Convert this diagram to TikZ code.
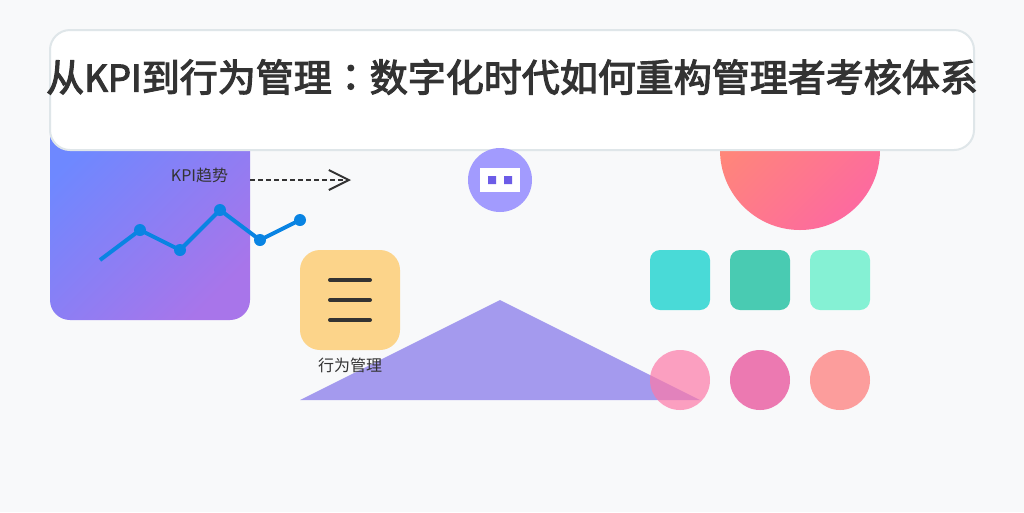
\documentclass[tikz,border=0pt]{standalone}
\usepackage{fontspec}
\setmainfont{Noto Sans CJK SC}
\newfontfamily\titlefont[FakeBold=3]{Noto Sans CJK SC}
\newfontfamily\colonfont[FakeBold=3]{Noto Sans CJK TC}
\usetikzlibrary{arrows.meta}
\definecolor{pagebg}{HTML}{F8F9FA}
\definecolor{inkdark}{HTML}{333333}
\definecolor{edgegrey}{HTML}{DFE6E9}
\definecolor{cardfrom}{HTML}{6E88FF}
\definecolor{cardto}{HTML}{A875EA}
\definecolor{sunfrom}{HTML}{FF8C72}
\definecolor{sunto}{HTML}{FD6A9F}
\definecolor{chartblue}{HTML}{0984E3}
\definecolor{violet}{HTML}{6C5CE7}
\definecolor{lilac}{HTML}{A29BFE}
\tikzset{
	dot/.style={circle,fill=chartblue,inner sep=0pt,minimum size=9pt},
	menuline/.style={color=inkdark,line width=3pt,line cap=round},
	tile/.style={fill opacity=0.7,rounded corners=7.5pt},
	disc/.style={fill opacity=0.7}
}
\begin{document}
\begin{tikzpicture}[x=0.75pt,y=-0.75pt]
	\useasboundingbox (0,0) rectangle (1024,512);
	\fill [pagebg] (0,0) rectangle (1024,512);
	% card and sun
	\shade [rounded corners=15pt,left color=cardfrom,right color=cardto,shading angle=45] (50,120) rectangle (250,320);
	\shade [left color=sunfrom,right color=sunto,shading angle=45] (800,150) circle (80);
	% title box
	\draw [fill=white,draw=edgegrey,line width=1.5pt,rounded corners=15pt] (50,30) rectangle (974,150);
	\node (title) at (512,77) [color=inkdark,font=\titlefont\fontsize{28.5pt}{34pt}\selectfont] {从{\fontsize{27.5pt}{34pt}\selectfont KPI}到行为管理{\colonfont ：}数字化时代如何重构管理者考核体系};
	% trend
	\node (trend) at (199.5,175) [color=inkdark,font=\fontsize{12pt}{14pt}\selectfont] {KPI趋势};
	\coordinate (start) at (100,260);
	\node [dot] (p1) at (140,230) {};
	\node [dot] (p2) at (180,250) {};
	\node [dot] (p3) at (220,210) {};
	\node [dot] (p4) at (260,240) {};
	\node [dot] (p5) at (300,220) {};
	\draw [chartblue,line width=3pt] (start)--(p1.center)--(p2.center)--(p3.center)--(p4.center)--(p5.center);
	\coordinate (from) at (250,180);
	\coordinate (to) at (351,180);
	\draw [inkdark,line width=1.5pt,dash pattern=on 3.75pt off 2.25pt,-{Straight Barb[length=15pt,width=15pt,line width=1.5pt]}] (from)--(to);
	% robot head
	\fill [lilac] (500,180) circle (32);
	\fill [white] (480,168) rectangle (520,192);
	\fill [violet] (488,176) rectangle (496,184) (504,176) rectangle (512,184);
	% triangle
	\fill [violet,fill opacity=0.6] (300,400)--(500,300)--(700,400)--cycle;
	% behaviour box
	\fill [color={rgb,255:red,253;green,203;blue,110},fill opacity=0.8,rounded corners=15pt] (300,250) rectangle (400,350);
	\draw [menuline] (330,280)--(370,280);
	\draw [menuline] (330,300)--(370,300);
	\draw [menuline] (330,320)--(370,320);
	\node (behave) at (350,365) [color=inkdark,font=\fontsize{12pt}{14pt}\selectfont] {行为管理};
	% tiles
	\fill [tile,color={rgb,255:red,0;green,206;blue,201}] (650,250) rectangle (710,310);
	\fill [tile,color={rgb,255:red,0;green,184;blue,148}] (730,250) rectangle (790,310);
	\fill [tile,color={rgb,255:red,85;green,239;blue,196}] (810,250) rectangle (870,310);
	% discs
	\fill [disc,color={rgb,255:red,253;green,121;blue,168}] (680,380) circle (30);
	\fill [disc,color={rgb,255:red,232;green,67;blue,147}] (760,380) circle (30);
	\fill [disc,color={rgb,255:red,255;green,118;blue,117}] (840,380) circle (30);
\end{tikzpicture}
\end{document}
